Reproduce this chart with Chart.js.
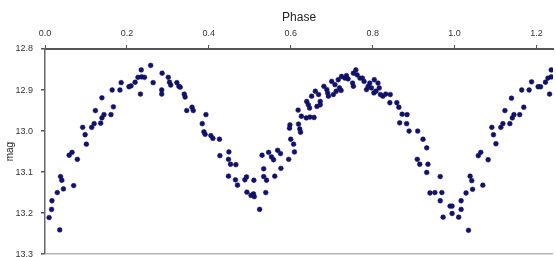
<!DOCTYPE html>
<html><head><meta charset="utf-8">
<script src="https://cdn.jsdelivr.net/npm/chart.js@4/dist/chart.umd.min.js"></script>
<style>html,body{margin:0;padding:0;background:#fff;}#wrap{width:556px;height:257px;position:relative;}</style>
</head><body><div id="wrap"><canvas id="c"></canvas></div>
<script>
const phase = [
0.010,0.016,0.017,0.030,0.036,0.038,0.041,0.045,0.070,0.059,0.066,0.079,0.092,0.098,0.101,0.114,0.120,0.123,0.136,0.139,0.144,0.139,0.161,0.167,0.164,0.183,0.186,0.205,0.210,0.220,0.227,0.236,0.243,0.235,0.233,0.258,0.264,0.286,0.301,0.304,0.307,0.285,0.285,
0.322,0.327,0.330,0.340,0.342,0.346,0.359,0.362,0.384,0.393,0.388,0.391,0.405,0.410,0.426,0.427,0.449,0.448,0.453,0.466,0.448,0.465,0.470,0.488,0.492,0.510,0.493,0.503,0.509,0.511,0.524,0.539,
0.530,0.534,0.534,0.541,0.546,0.553,0.558,0.561,0.568,0.575,0.576,0.595,0.609,0.598,0.597,0.619,0.622,0.624,0.600,0.607,
0.618,0.626,0.638,0.647,0.657,0.639,0.643,0.646,0.651,0.660,0.664,0.668,0.672,0.672,0.681,0.688,0.692,0.700,0.704,0.708,0.711,0.716,0.719,0.724,0.732,0.736,0.740,0.690,0.723,
0.753,0.753,0.759,0.762,0.769,0.775,0.779,0.785,0.789,0.793,0.797,0.803,0.808,0.813,0.816,0.819,0.825,0.832,0.843,0.842,0.859,0.864,0.804,0.751,
0.872,0.884,0.866,0.883,0.889,0.910,0.923,0.932,0.909,0.915,0.935,0.932,0.965,0.940,0.952,0.969,0.965,0.989,0.994,0.994,0.972,1.010,1.016,1.016,1.034,1.028,1.038,1.042,1.044,1.069,1.058,1.064,1.082,
1.095,1.101,1.091,1.113,1.118,1.135,1.141,1.145,1.159,1.123,1.169,1.139,1.164,1.182,1.188,1.204,1.210,1.222,1.228,1.236,1.236,1.232
];
const mag = [
13.211,13.191,13.170,13.150,13.241,13.111,13.120,13.141,13.133,13.059,13.052,13.069,12.991,13.009,13.032,12.991,12.982,12.950,12.981,12.968,12.960,12.919,12.960,12.941,12.900,12.900,12.882,12.892,12.890,12.881,12.869,12.868,12.869,12.851,12.910,12.840,12.882,12.859,12.869,12.881,12.888,12.900,12.910,
12.882,12.891,12.893,12.910,12.917,12.950,12.942,12.950,12.982,12.960,13.002,13.008,13.011,13.018,13.020,13.060,13.051,13.069,13.081,13.082,13.110,13.119,13.132,13.119,13.112,13.120,13.149,13.157,13.153,13.160,13.191,13.150,
13.059,13.092,13.111,13.120,13.052,13.063,13.070,13.110,13.047,13.055,13.091,13.069,13.051,12.985,12.993,12.983,12.995,13.003,13.020,13.032,
12.949,12.964,12.968,12.966,12.967,12.928,12.936,12.944,12.915,12.903,12.940,12.911,12.928,12.936,12.891,12.899,12.915,12.879,12.911,12.887,12.903,12.875,12.895,12.867,12.871,12.865,12.873,12.907,12.901,
12.891,12.859,12.851,12.863,12.871,12.871,12.879,12.899,12.891,12.883,12.895,12.907,12.903,12.883,12.895,12.911,12.915,12.910,12.911,12.931,12.931,12.942,12.875,12.883,
12.959,12.960,12.980,12.982,13.000,13.000,13.020,13.041,13.069,13.081,13.081,13.101,13.111,13.151,13.150,13.150,13.170,13.183,13.183,13.201,13.210,13.210,13.170,13.191,13.242,13.151,13.110,13.121,13.142,13.132,13.060,13.052,13.070,
13.009,13.031,12.991,12.991,12.982,12.982,12.968,12.960,12.960,12.950,12.942,12.920,12.900,12.900,12.880,12.892,12.892,12.881,12.871,12.868,12.851,12.910
];
const xTickValues = [0.0,0.2,0.4,0.6,0.8,1.0,1.2];
const yTickValues = [12.8,12.9,13.0,13.1,13.2,13.3];
const xTitle = 'Phase';
const yTitle = 'mag';

const points = phase.map((p,i)=>({x:p,y:mag[i]}));
const tickFont = {family:'"Liberation Sans", Arial, sans-serif', size:9};

new Chart(document.getElementById('c'), {
  type:'scatter',
  data:{datasets:[{data:points, pointRadius:2.4, pointHoverRadius:2.4, pointBackgroundColor:'#12126c', pointBorderColor:'#0e0e5c', pointBorderWidth:0.5}]},
  options:{
    responsive:true, maintainAspectRatio:false, animation:false, devicePixelRatio:1,
    layout:{padding:{left:0,right:0,top:0,bottom:1}},
    plugins:{legend:{display:false}, tooltip:{enabled:false}},
    scales:{
      x:{type:'linear', position:'top', min:0, max:1.2406,
        afterBuildTicks:s=>{s.ticks = xTickValues.map(v=>({value:v}));},
        ticks:{callback:v=>Number(v).toFixed(1), font:tickFont, color:'#333', padding:6, maxRotation:0, autoSkip:false},
        grid:{drawOnChartArea:false, tickLength:4, tickColor:'#555', tickWidth:1},
        border:{color:'#555', width:2},
        title:{display:true, text:xTitle, color:'#222', font:{family:'"Liberation Sans", Arial, sans-serif', size:12}, padding:{top:10,bottom:0}},
        afterFit:s=>{s.height=49; s.paddingLeft=0; s.paddingRight=0;}
      },
      y:{type:'linear', reverse:true, min:12.8, max:13.3,
        afterBuildTicks:s=>{s.ticks = yTickValues.map(v=>({value:v}));},
        ticks:{callback:v=>Number(v).toFixed(1), font:tickFont, color:'#333', padding:8, autoSkip:false},
        grid:{drawOnChartArea:true, color:c=>(c.tick && Math.abs(c.tick.value-13.3)<1e-6)?'#b4b4b4':'rgba(0,0,0,0)', tickColor:'#555', tickLength:4, lineWidth:1.5},
        border:{color:'#666', width:1.5},
        title:{display:true, text:yTitle, color:'#222', font:{family:'"Liberation Sans", Arial, sans-serif', size:10}, padding:{top:4,bottom:0}},
        afterFit:s=>{s.width=45; s.paddingTop=0; s.paddingBottom=0;}
      }
    }
  }
});
</script>
</body></html>
